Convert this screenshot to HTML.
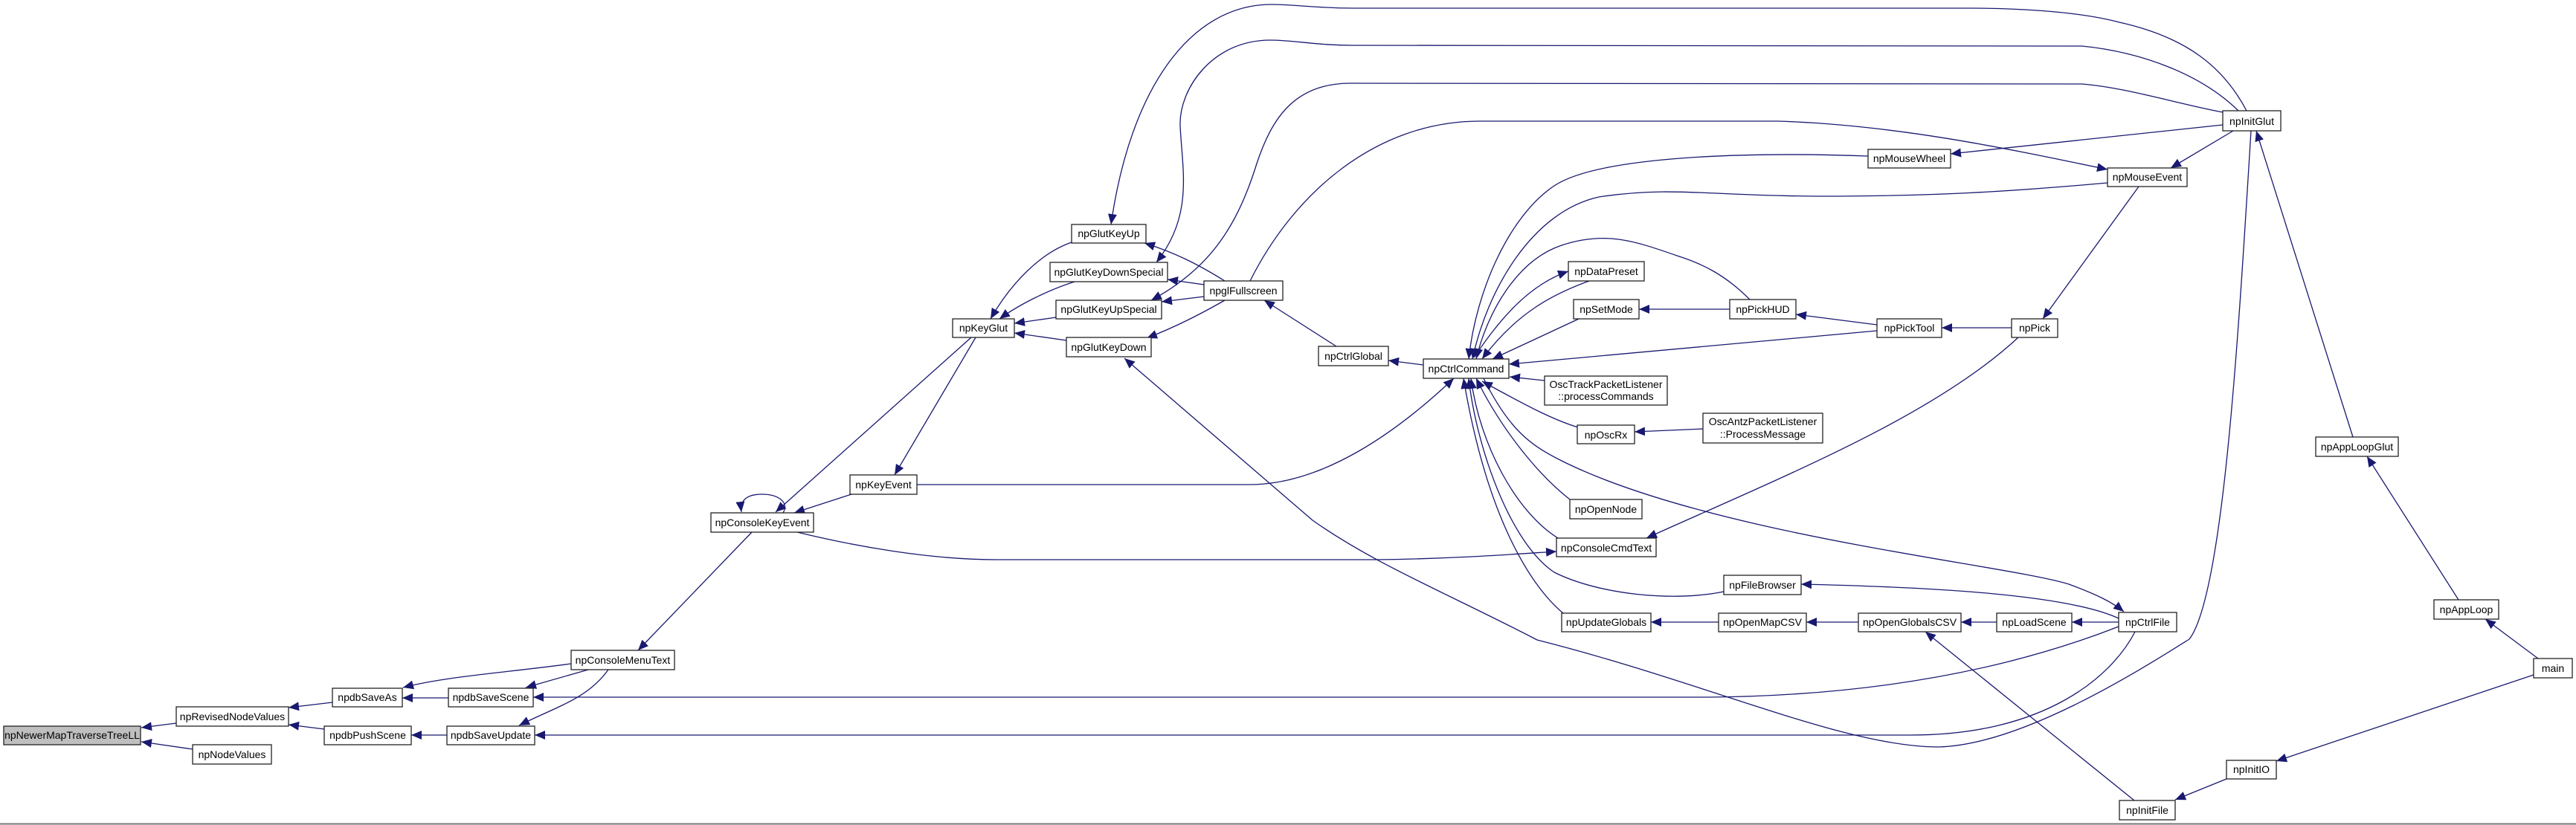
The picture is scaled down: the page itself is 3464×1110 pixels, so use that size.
<!DOCTYPE html>
<html><head><meta charset="utf-8"><style>
html,body{margin:0;padding:0;background:#fff;}
svg{display:block;}
text{font-family:"Liberation Sans",Arial,sans-serif;font-size:14px;fill:#000;}
</style></head><body>
<svg width="3464" height="1110" viewBox="0 0 3464 1110" xmlns="http://www.w3.org/2000/svg">
<defs>
<marker id="a" markerUnits="userSpaceOnUse" markerWidth="16" markerHeight="12" refX="14" refY="6" orient="auto">
<path d="M0,0 L14,6 L0,12 z" fill="#191970"/>
</marker>
</defs>
<rect width="3464" height="1110" fill="#fff"/>
<line x1="0" y1="1108.5" x2="3464" y2="1108.5" stroke="#777" stroke-width="2"/>
<g fill="none" stroke="#191970" stroke-width="1.3" marker-end="url(#a)">
<path d="M237,973 L190,979"/>
<path d="M259,1008 L190,998"/>
<path d="M447,945 L388,952"/>
<path d="M436,981 L388,975"/>
<path d="M603,939 L541,939"/>
<path d="M768,893 C680,905 600,910 542,925"/>
<path d="M791,901 L707,925"/>
<path d="M818,901 C790,940 750,950 698,976"/>
<path d="M601,989 L553,989"/>
<path d="M2849,843 C2780,870 2600,935 2300,938 L717,938"/>
<path d="M2871,850 C2840,910 2750,989 2570,989 L719,989"/>
<path d="M1011,716 L858,875"/>
<path d="M1053,690 C1062,675 1045,665 1025,665 C1005,665 995,672 997,689"/>
<path d="M1145,665 L1068,690"/>
<path d="M1306,454 L1043,689"/>
<path d="M1072,716 C1150,735 1250,753 1340,753 L1850,753 C1950,752 2030,746 2093,742"/>
<path d="M1312,454 L1203,639"/>
<path d="M1233,652 L1680,652 C1780,652 1880,580 1955,509"/>
<path d="M1441,326 C1400,340 1360,380 1332,429"/>
<path d="M1445,379 C1410,390 1370,410 1344,429"/>
<path d="M1420,427 L1364,435"/>
<path d="M1434,458 L1364,448"/>
<path d="M1647,378 C1610,355 1580,340 1539,327"/>
<path d="M1619,383 L1570,376"/>
<path d="M1619,399 L1562,406"/>
<path d="M1647,404 C1610,425 1580,440 1542,455"/>
<path d="M1797,466 L1700,404"/>
<path d="M1914,491 L1867,485"/>
<path d="M3021,149 C2990,90 2940,50 2850,30 C2790,14 2700,11 2650,11 L1820,11 C1770,11 1740,6 1710,6 C1600,6 1520,120 1494,302"/>
<path d="M3010,149 C2960,100 2880,70 2800,62 L1820,61 C1770,61 1740,54 1708,54 C1630,54 1585,120 1587,170 C1590,230 1605,290 1555,353"/>
<path d="M2989,151 C2930,140 2860,118 2800,113 L1816,112 C1740,112 1710,160 1690,220 C1665,300 1630,360 1548,404"/>
<path d="M1681,378 C1740,260 1850,163 1990,163 L2390,163 C2550,168 2700,200 2834,228"/>
<path d="M2989,168 L2623,207"/>
<path d="M3003,176 L2919,226"/>
<path d="M2512,210 C2350,204 2150,210 2090,250 C2030,290 1985,390 1975,483"/>
<path d="M2834,246 C2700,258 2600,264 2450,264 C2300,264 2250,250 2150,265 C2060,285 2000,390 1980,483"/>
<path d="M1982,481 C2010,440 2050,385 2109,365"/>
<path d="M2137,378 C2090,395 2040,420 1993,483"/>
<path d="M2123,429 L2007,483"/>
<path d="M2326,416 L2204,416"/>
<path d="M2353,403 C2320,370 2290,355 2255,344 C2200,325 2160,310 2100,330 C2040,350 2000,420 1985,483"/>
<path d="M2524,437 L2415,423"/>
<path d="M2524,445 L2029,490"/>
<path d="M2705,441 L2611,441"/>
<path d="M2876,251 L2747,429"/>
<path d="M2714,454 C2600,560 2400,640 2214,724"/>
<path d="M2077,512 L2030,507"/>
<path d="M2122,575 C2090,565 2060,550 1993,513"/>
<path d="M2290,577 L2198,581"/>
<path d="M2111,672 C2070,640 2020,580 1985,509"/>
<path d="M2095,724 C2040,690 1990,600 1978,509"/>
<path d="M2318,796 C2250,810 2150,800 2090,770 C2030,730 1985,600 1975,509"/>
<path d="M2102,825 C2060,790 2000,700 1968,509"/>
<path d="M1995,509 C2030,580 2060,600 2100,620 C2300,720 2700,760 2782,786 C2820,800 2840,810 2856,823"/>
<path d="M2849,832 C2780,800 2600,790 2422,786"/>
<path d="M2311,837 L2220,837"/>
<path d="M2499,837 L2429,837"/>
<path d="M2685,837 L2637,837"/>
<path d="M2849,837 L2786,837"/>
<path d="M2870,1077 L2589,850"/>
<path d="M2994,1048 L2925,1076"/>
<path d="M3407,908 L3061,1024"/>
<path d="M3413,886 L3342,833"/>
<path d="M3306,807 L3183,614"/>
<path d="M3164,588 L3034,176"/>
<path d="M3027,176 C3010,450 2990,800 2944,860 C2880,900 2720,1002 2607,1005 C2480,1005 2300,920 2067,861 C1950,800 1850,760 1765,700 L1512,482"/>
</g>
<g stroke="#222" stroke-width="1.3" fill="#fff">
<rect x="5" y="977" width="184" height="25" fill="#bfbfbf"/>
<rect x="237" y="951" width="151" height="26"/>
<rect x="259" y="1002" width="106" height="26"/>
<rect x="447" y="926" width="94" height="25"/>
<rect x="436" y="977" width="117" height="25"/>
<rect x="603" y="926" width="114" height="25"/>
<rect x="601" y="977" width="118" height="25"/>
<rect x="768" y="875" width="139" height="26"/>
<rect x="956" y="690" width="138" height="26"/>
<rect x="1143" y="639" width="90" height="26"/>
<rect x="1281" y="429" width="83" height="25"/>
<rect x="1441" y="302" width="100" height="25"/>
<rect x="1412" y="353" width="158" height="26"/>
<rect x="1420" y="404" width="142" height="25"/>
<rect x="1434" y="454" width="114" height="26"/>
<rect x="1619" y="378" width="106" height="26"/>
<rect x="1773" y="466" width="94" height="26"/>
<rect x="1914" y="483" width="115" height="26"/>
<rect x="2512" y="201" width="111" height="25"/>
<rect x="2109" y="352" width="102" height="26"/>
<rect x="2116" y="403" width="88" height="26"/>
<rect x="2326" y="403" width="89" height="26"/>
<rect x="2524" y="429" width="87" height="25"/>
<rect x="2705" y="429" width="62" height="25"/>
<rect x="2077" y="506" width="165" height="39"/>
<rect x="2290" y="556" width="161" height="40"/>
<rect x="2121" y="572" width="77" height="25"/>
<rect x="2111" y="672" width="97" height="26"/>
<rect x="2093" y="724" width="134" height="25"/>
<rect x="2318" y="774" width="104" height="26"/>
<rect x="2100" y="825" width="120" height="25"/>
<rect x="2311" y="825" width="118" height="25"/>
<rect x="2499" y="825" width="138" height="25"/>
<rect x="2685" y="825" width="101" height="25"/>
<rect x="2849" y="824" width="78" height="26"/>
<rect x="2850" y="1077" width="75" height="26"/>
<rect x="2989" y="149" width="78" height="27"/>
<rect x="2834" y="226" width="107" height="25"/>
<rect x="3114" y="588" width="111" height="26"/>
<rect x="3273" y="807" width="87" height="26"/>
<rect x="3407" y="886" width="52" height="26"/>
<rect x="2994" y="1023" width="67" height="25"/>
</g>
<g text-anchor="middle">
<text x="97" y="994">npNewerMapTraverseTreeLL</text>
<text x="312.5" y="969">npRevisedNodeValues</text>
<text x="312" y="1020">npNodeValues</text>
<text x="494" y="943">npdbSaveAs</text>
<text x="494.5" y="994">npdbPushScene</text>
<text x="660" y="943">npdbSaveScene</text>
<text x="660" y="994">npdbSaveUpdate</text>
<text x="837.5" y="893">npConsoleMenuText</text>
<text x="1025" y="708">npConsoleKeyEvent</text>
<text x="1188" y="657">npKeyEvent</text>
<text x="1322.5" y="446">npKeyGlut</text>
<text x="1491" y="319">npGlutKeyUp</text>
<text x="1491" y="371">npGlutKeyDownSpecial</text>
<text x="1491" y="421">npGlutKeyUpSpecial</text>
<text x="1491" y="472">npGlutKeyDown</text>
<text x="1672" y="396">npglFullscreen</text>
<text x="1820" y="484">npCtrlGlobal</text>
<text x="1971.5" y="501">npCtrlCommand</text>
<text x="2567.5" y="218">npMouseWheel</text>
<text x="2160" y="370">npDataPreset</text>
<text x="2160" y="421">npSetMode</text>
<text x="2370.5" y="421">npPickHUD</text>
<text x="2567.5" y="446">npPickTool</text>
<text x="2736" y="446">npPick</text>
<text x="2159.5" y="522">OscTrackPacketListener</text>
<text x="2159.5" y="538">::processCommands</text>
<text x="2370.5" y="572">OscAntzPacketListener</text>
<text x="2370.5" y="589">::ProcessMessage</text>
<text x="2159.5" y="590">npOscRx</text>
<text x="2159.5" y="690">npOpenNode</text>
<text x="2160" y="742">npConsoleCmdText</text>
<text x="2370" y="792">npFileBrowser</text>
<text x="2160" y="842">npUpdateGlobals</text>
<text x="2370" y="842">npOpenMapCSV</text>
<text x="2568" y="842">npOpenGlobalsCSV</text>
<text x="2735.5" y="842">npLoadScene</text>
<text x="2888" y="842">npCtrlFile</text>
<text x="2887.5" y="1095">npInitFile</text>
<text x="3028" y="168">npInitGlut</text>
<text x="2887.5" y="243">npMouseEvent</text>
<text x="3169.5" y="606">npAppLoopGlut</text>
<text x="3316.5" y="825">npAppLoop</text>
<text x="3433" y="904">main</text>
<text x="3027.5" y="1040">npInitIO</text>
</g>
</svg>
</body></html>
